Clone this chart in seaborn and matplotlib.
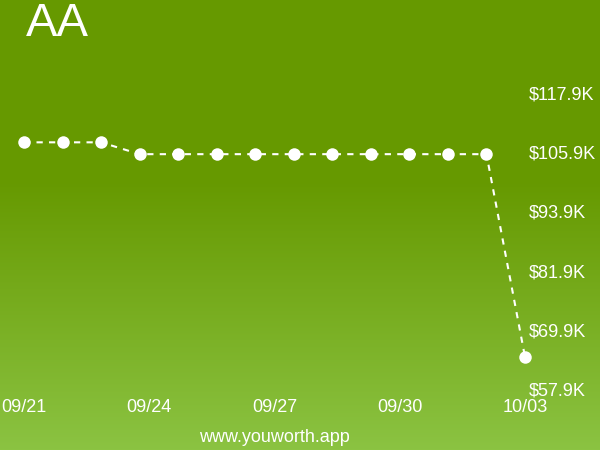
import numpy as np
import matplotlib
matplotlib.use("Agg")
import matplotlib.pyplot as plt
import seaborn as sns
import pandas as pd

# Data
values_k = [108.3, 108.3, 108.3, 105.9, 105.9, 105.9, 105.9, 105.9,
            105.9, 105.9, 105.9, 105.9, 105.9, 64.8]
x_labels = ["09/21", "09/24", "09/27", "09/30", "10/03"]
y_ticks = [57.9, 69.9, 81.9, 93.9, 105.9, 117.9]
title = "AA"
footer = "www.youworth.app"

df = pd.DataFrame({"day": np.arange(len(values_k)), "value": values_k})

sns.set_theme(style="white")
plt.rcParams["font.family"] = ["Liberation Sans", "DejaVu Sans"]

fig = plt.figure(figsize=(6, 4.5), dpi=100)

# background gradient
bg = fig.add_axes([0, 0, 1, 1])
t = np.linspace(0, 1, 450)
w = np.clip((t - 0.4) / 0.6, 0, 1)
top = np.array([102, 153, 0]) / 255
bot = np.array([139, 195, 66]) / 255
grad = top[None, :] * (1 - w[:, None]) + bot[None, :] * w[:, None]
bg.imshow(grad[:, None, :], aspect="auto", extent=[0, 1, 0, 1])
bg.set_axis_off()

ax = fig.add_axes([0.04, 0.131, 0.835, 0.658])
ax.patch.set_alpha(0)
sns.lineplot(data=df, x="day", y="value", ax=ax, color="white",
             linestyle=(0, (3, 3)), linewidth=1.5, marker="o",
             markersize=9, markeredgewidth=0, markerfacecolor="white")
ax.set_ylim(57.9, 117.9)
ax.set_xlim(0, len(values_k) - 1)
for s in ax.spines.values():
    s.set_visible(False)
ax.set_xlabel("")
ax.set_ylabel("")
ax.yaxis.tick_right()
ax.set_yticks(y_ticks)
ax.set_yticklabels([f"${v:.1f}K" for v in y_ticks], color="white", fontsize=13)
ax.set_xticks(np.linspace(0, len(values_k) - 1, len(x_labels)))
ax.set_xticklabels(x_labels, color="white", fontsize=13)
ax.tick_params(axis="y", length=0, pad=3)
ax.tick_params(axis="x", length=0, pad=6)
for lbl in ax.get_yticklabels():
    lbl.set_verticalalignment("center")
for line in ax.lines:
    line.set_clip_on(False)

fig.text(0.043, 0.947, title, color="white", fontsize=34, ha="left", va="center")
fig.text(0.457, 0.028, footer, color="white", fontsize=13, ha="center", va="center")

fig.savefig("out.png", dpi=100)
